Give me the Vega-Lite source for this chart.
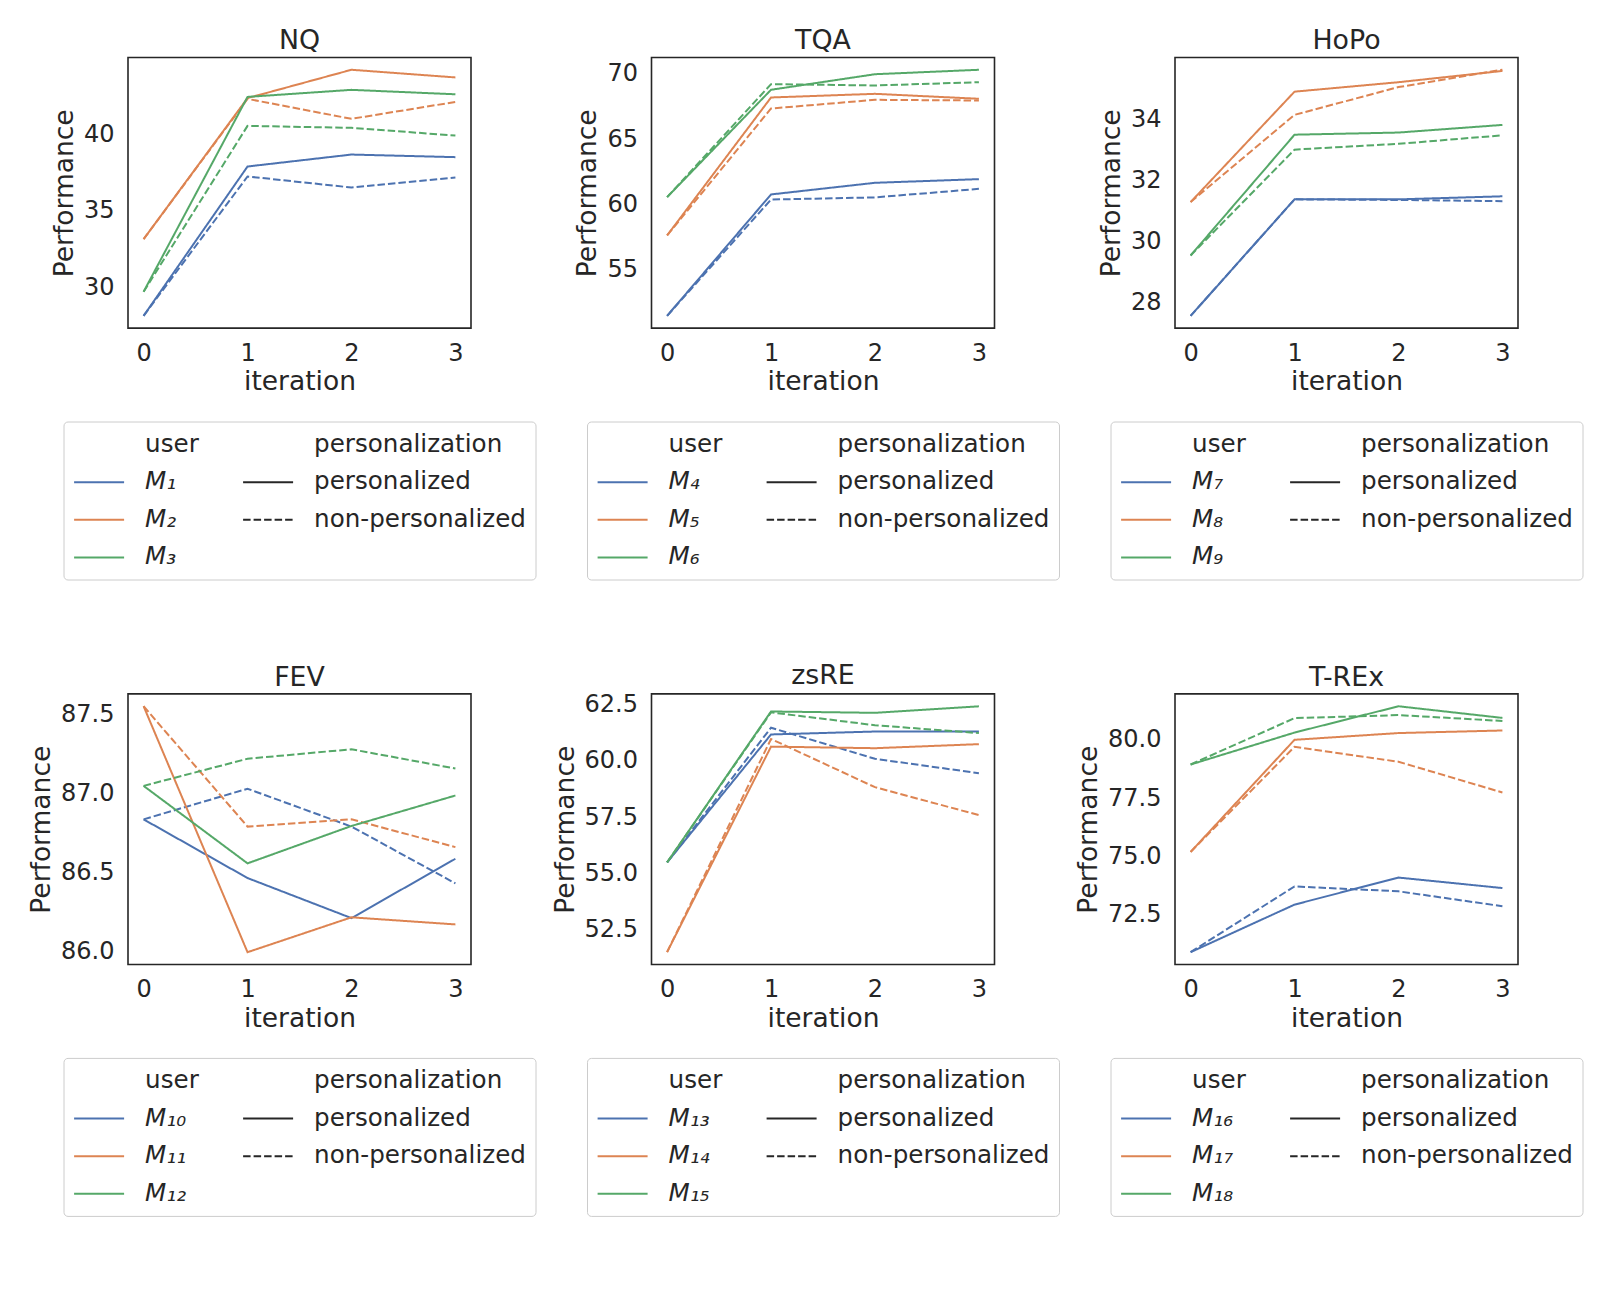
{
  "$schema": "https://vega.github.io/schema/vega-lite/v6.json",
  "padding": {"left": 27, "top": 26.5, "right": 10, "bottom": 10},
  "background": "white",
  "config": {
    "font": "DejaVu Sans",
    "view": {"stroke": "#262626", "strokeWidth": 1.6},
    "axis": {"grid": false, "ticks": false, "tickSize": 0, "domain": false, "labelFontSize": 24, "titleFontSize": 26.5, "labelColor": "#262626", "titleColor": "#262626", "titleFontWeight": "normal"},
    "axisX": {"labelPadding": 13, "titlePadding": 3.5},
    "axisY": {"labelPadding": 14, "titlePadding": 5},
    "title": {"fontSize": 26.8, "fontWeight": "normal", "color": "#262626", "offset": 2.5},
    "legend": {"labelFontSize": 24.6, "labelColor": "#262626", "symbolType": "M-1,0H3", "symbolSize": 625, "symbolStrokeWidth": 2, "labelOffset": 45, "rowPadding": 11.6, "columnPadding": 40, "padding": 9.6, "labelLimit": 400, "strokeColor": "#cccccc", "fillColor": "white", "cornerRadius": 4, "columns": 2, "orient": "none", "legendX": -64.5, "legendY": 364}
  },
  "data": {"values": [
    {"dataset":"NQ","user":"M₁","personalization":"personalized","iteration":0,"performance":28.15},
    {"dataset":"NQ","user":"M₁","personalization":"personalized","iteration":1,"performance":37.89},
    {"dataset":"NQ","user":"M₁","personalization":"personalized","iteration":2,"performance":38.67},
    {"dataset":"NQ","user":"M₁","personalization":"personalized","iteration":3,"performance":38.5},
    {"dataset":"NQ","user":"M₁","personalization":"non-personalized","iteration":0,"performance":28.15},
    {"dataset":"NQ","user":"M₁","personalization":"non-personalized","iteration":1,"performance":37.24},
    {"dataset":"NQ","user":"M₁","personalization":"non-personalized","iteration":2,"performance":36.52},
    {"dataset":"NQ","user":"M₁","personalization":"non-personalized","iteration":3,"performance":37.17},
    {"dataset":"NQ","user":"M₂","personalization":"personalized","iteration":0,"performance":33.15},
    {"dataset":"NQ","user":"M₂","personalization":"personalized","iteration":1,"performance":42.35},
    {"dataset":"NQ","user":"M₂","personalization":"personalized","iteration":2,"performance":44.2},
    {"dataset":"NQ","user":"M₂","personalization":"personalized","iteration":3,"performance":43.7},
    {"dataset":"NQ","user":"M₂","personalization":"non-personalized","iteration":0,"performance":33.15},
    {"dataset":"NQ","user":"M₂","personalization":"non-personalized","iteration":1,"performance":42.3},
    {"dataset":"NQ","user":"M₂","personalization":"non-personalized","iteration":2,"performance":41.0},
    {"dataset":"NQ","user":"M₂","personalization":"non-personalized","iteration":3,"performance":42.1},
    {"dataset":"NQ","user":"M₃","personalization":"personalized","iteration":0,"performance":29.72},
    {"dataset":"NQ","user":"M₃","personalization":"personalized","iteration":1,"performance":42.43},
    {"dataset":"NQ","user":"M₃","personalization":"personalized","iteration":2,"performance":42.89},
    {"dataset":"NQ","user":"M₃","personalization":"personalized","iteration":3,"performance":42.6},
    {"dataset":"NQ","user":"M₃","personalization":"non-personalized","iteration":0,"performance":29.72},
    {"dataset":"NQ","user":"M₃","personalization":"non-personalized","iteration":1,"performance":40.54},
    {"dataset":"NQ","user":"M₃","personalization":"non-personalized","iteration":2,"performance":40.41},
    {"dataset":"NQ","user":"M₃","personalization":"non-personalized","iteration":3,"performance":39.91},

    {"dataset":"TQA","user":"M₄","personalization":"personalized","iteration":0,"performance":51.48},
    {"dataset":"TQA","user":"M₄","personalization":"personalized","iteration":1,"performance":60.77},
    {"dataset":"TQA","user":"M₄","personalization":"personalized","iteration":2,"performance":61.66},
    {"dataset":"TQA","user":"M₄","personalization":"personalized","iteration":3,"performance":61.94},
    {"dataset":"TQA","user":"M₄","personalization":"non-personalized","iteration":0,"performance":51.48},
    {"dataset":"TQA","user":"M₄","personalization":"non-personalized","iteration":1,"performance":60.38},
    {"dataset":"TQA","user":"M₄","personalization":"non-personalized","iteration":2,"performance":60.54},
    {"dataset":"TQA","user":"M₄","personalization":"non-personalized","iteration":3,"performance":61.2},
    {"dataset":"TQA","user":"M₅","personalization":"personalized","iteration":0,"performance":57.63},
    {"dataset":"TQA","user":"M₅","personalization":"personalized","iteration":1,"performance":68.19},
    {"dataset":"TQA","user":"M₅","personalization":"personalized","iteration":2,"performance":68.47},
    {"dataset":"TQA","user":"M₅","personalization":"personalized","iteration":3,"performance":68.09},
    {"dataset":"TQA","user":"M₅","personalization":"non-personalized","iteration":0,"performance":57.63},
    {"dataset":"TQA","user":"M₅","personalization":"non-personalized","iteration":1,"performance":67.35},
    {"dataset":"TQA","user":"M₅","personalization":"non-personalized","iteration":2,"performance":68.01},
    {"dataset":"TQA","user":"M₅","personalization":"non-personalized","iteration":3,"performance":67.96},
    {"dataset":"TQA","user":"M₆","personalization":"personalized","iteration":0,"performance":60.56},
    {"dataset":"TQA","user":"M₆","personalization":"personalized","iteration":1,"performance":68.78},
    {"dataset":"TQA","user":"M₆","personalization":"personalized","iteration":2,"performance":69.97},
    {"dataset":"TQA","user":"M₆","personalization":"personalized","iteration":3,"performance":70.31},
    {"dataset":"TQA","user":"M₆","personalization":"non-personalized","iteration":0,"performance":60.56},
    {"dataset":"TQA","user":"M₆","personalization":"non-personalized","iteration":1,"performance":69.21},
    {"dataset":"TQA","user":"M₆","personalization":"non-personalized","iteration":2,"performance":69.11},
    {"dataset":"TQA","user":"M₆","personalization":"non-personalized","iteration":3,"performance":69.36},

    {"dataset":"HoPo","user":"M₇","personalization":"personalized","iteration":0,"performance":27.56},
    {"dataset":"HoPo","user":"M₇","personalization":"personalized","iteration":1,"performance":31.38},
    {"dataset":"HoPo","user":"M₇","personalization":"personalized","iteration":2,"performance":31.38},
    {"dataset":"HoPo","user":"M₇","personalization":"personalized","iteration":3,"performance":31.48},
    {"dataset":"HoPo","user":"M₇","personalization":"non-personalized","iteration":0,"performance":27.56},
    {"dataset":"HoPo","user":"M₇","personalization":"non-personalized","iteration":1,"performance":31.38},
    {"dataset":"HoPo","user":"M₇","personalization":"non-personalized","iteration":2,"performance":31.36},
    {"dataset":"HoPo","user":"M₇","personalization":"non-personalized","iteration":3,"performance":31.32},
    {"dataset":"HoPo","user":"M₈","personalization":"personalized","iteration":0,"performance":31.29},
    {"dataset":"HoPo","user":"M₈","personalization":"personalized","iteration":1,"performance":34.91},
    {"dataset":"HoPo","user":"M₈","personalization":"personalized","iteration":2,"performance":35.22},
    {"dataset":"HoPo","user":"M₈","personalization":"personalized","iteration":3,"performance":35.59},
    {"dataset":"HoPo","user":"M₈","personalization":"non-personalized","iteration":0,"performance":31.29},
    {"dataset":"HoPo","user":"M₈","personalization":"non-personalized","iteration":1,"performance":34.15},
    {"dataset":"HoPo","user":"M₈","personalization":"non-personalized","iteration":2,"performance":35.06},
    {"dataset":"HoPo","user":"M₈","personalization":"non-personalized","iteration":3,"performance":35.63},
    {"dataset":"HoPo","user":"M₉","personalization":"personalized","iteration":0,"performance":29.54},
    {"dataset":"HoPo","user":"M₉","personalization":"personalized","iteration":1,"performance":33.5},
    {"dataset":"HoPo","user":"M₉","personalization":"personalized","iteration":2,"performance":33.57},
    {"dataset":"HoPo","user":"M₉","personalization":"personalized","iteration":3,"performance":33.82},
    {"dataset":"HoPo","user":"M₉","personalization":"non-personalized","iteration":0,"performance":29.54},
    {"dataset":"HoPo","user":"M₉","personalization":"non-personalized","iteration":1,"performance":33.01},
    {"dataset":"HoPo","user":"M₉","personalization":"non-personalized","iteration":2,"performance":33.2},
    {"dataset":"HoPo","user":"M₉","personalization":"non-personalized","iteration":3,"performance":33.48},

    {"dataset":"FEV","user":"M₁₀","personalization":"personalized","iteration":0,"performance":86.836},
    {"dataset":"FEV","user":"M₁₀","personalization":"personalized","iteration":1,"performance":86.464},
    {"dataset":"FEV","user":"M₁₀","personalization":"personalized","iteration":2,"performance":86.21},
    {"dataset":"FEV","user":"M₁₀","personalization":"personalized","iteration":3,"performance":86.586},
    {"dataset":"FEV","user":"M₁₀","personalization":"non-personalized","iteration":0,"performance":86.836},
    {"dataset":"FEV","user":"M₁₀","personalization":"non-personalized","iteration":1,"performance":87.03},
    {"dataset":"FEV","user":"M₁₀","personalization":"non-personalized","iteration":2,"performance":86.79},
    {"dataset":"FEV","user":"M₁₀","personalization":"non-personalized","iteration":3,"performance":86.43},
    {"dataset":"FEV","user":"M₁₁","personalization":"personalized","iteration":0,"performance":87.553},
    {"dataset":"FEV","user":"M₁₁","personalization":"personalized","iteration":1,"performance":85.994},
    {"dataset":"FEV","user":"M₁₁","personalization":"personalized","iteration":2,"performance":86.215},
    {"dataset":"FEV","user":"M₁₁","personalization":"personalized","iteration":3,"performance":86.17},
    {"dataset":"FEV","user":"M₁₁","personalization":"non-personalized","iteration":0,"performance":87.553},
    {"dataset":"FEV","user":"M₁₁","personalization":"non-personalized","iteration":1,"performance":86.79},
    {"dataset":"FEV","user":"M₁₁","personalization":"non-personalized","iteration":2,"performance":86.836},
    {"dataset":"FEV","user":"M₁₁","personalization":"non-personalized","iteration":3,"performance":86.66},
    {"dataset":"FEV","user":"M₁₂","personalization":"personalized","iteration":0,"performance":87.048},
    {"dataset":"FEV","user":"M₁₂","personalization":"personalized","iteration":1,"performance":86.557},
    {"dataset":"FEV","user":"M₁₂","personalization":"personalized","iteration":2,"performance":86.794},
    {"dataset":"FEV","user":"M₁₂","personalization":"personalized","iteration":3,"performance":86.987},
    {"dataset":"FEV","user":"M₁₂","personalization":"non-personalized","iteration":0,"performance":87.048},
    {"dataset":"FEV","user":"M₁₂","personalization":"non-personalized","iteration":1,"performance":87.22},
    {"dataset":"FEV","user":"M₁₂","personalization":"non-personalized","iteration":2,"performance":87.28},
    {"dataset":"FEV","user":"M₁₂","personalization":"non-personalized","iteration":3,"performance":87.158},

    {"dataset":"zsRE","user":"M₁₃","personalization":"personalized","iteration":0,"performance":55.49},
    {"dataset":"zsRE","user":"M₁₃","personalization":"personalized","iteration":1,"performance":61.17},
    {"dataset":"zsRE","user":"M₁₃","personalization":"personalized","iteration":2,"performance":61.3},
    {"dataset":"zsRE","user":"M₁₃","personalization":"personalized","iteration":3,"performance":61.3},
    {"dataset":"zsRE","user":"M₁₃","personalization":"non-personalized","iteration":0,"performance":55.49},
    {"dataset":"zsRE","user":"M₁₃","personalization":"non-personalized","iteration":1,"performance":61.47},
    {"dataset":"zsRE","user":"M₁₃","personalization":"non-personalized","iteration":2,"performance":60.09},
    {"dataset":"zsRE","user":"M₁₃","personalization":"non-personalized","iteration":3,"performance":59.45},
    {"dataset":"zsRE","user":"M₁₄","personalization":"personalized","iteration":0,"performance":51.51},
    {"dataset":"zsRE","user":"M₁₄","personalization":"personalized","iteration":1,"performance":60.63},
    {"dataset":"zsRE","user":"M₁₄","personalization":"personalized","iteration":2,"performance":60.56},
    {"dataset":"zsRE","user":"M₁₄","personalization":"personalized","iteration":3,"performance":60.74},
    {"dataset":"zsRE","user":"M₁₄","personalization":"non-personalized","iteration":0,"performance":51.51},
    {"dataset":"zsRE","user":"M₁₄","personalization":"non-personalized","iteration":1,"performance":60.97},
    {"dataset":"zsRE","user":"M₁₄","personalization":"non-personalized","iteration":2,"performance":58.83},
    {"dataset":"zsRE","user":"M₁₄","personalization":"non-personalized","iteration":3,"performance":57.59},
    {"dataset":"zsRE","user":"M₁₅","personalization":"personalized","iteration":0,"performance":55.49},
    {"dataset":"zsRE","user":"M₁₅","personalization":"personalized","iteration":1,"performance":62.19},
    {"dataset":"zsRE","user":"M₁₅","personalization":"personalized","iteration":2,"performance":62.13},
    {"dataset":"zsRE","user":"M₁₅","personalization":"personalized","iteration":3,"performance":62.42},
    {"dataset":"zsRE","user":"M₁₅","personalization":"non-personalized","iteration":0,"performance":55.49},
    {"dataset":"zsRE","user":"M₁₅","personalization":"non-personalized","iteration":1,"performance":62.15},
    {"dataset":"zsRE","user":"M₁₅","personalization":"non-personalized","iteration":2,"performance":61.58},
    {"dataset":"zsRE","user":"M₁₅","personalization":"non-personalized","iteration":3,"performance":61.23},

    {"dataset":"T-REx","user":"M₁₆","personalization":"personalized","iteration":0,"performance":70.89},
    {"dataset":"T-REx","user":"M₁₆","personalization":"personalized","iteration":1,"performance":72.93},
    {"dataset":"T-REx","user":"M₁₆","personalization":"personalized","iteration":2,"performance":74.09},
    {"dataset":"T-REx","user":"M₁₆","personalization":"personalized","iteration":3,"performance":73.64},
    {"dataset":"T-REx","user":"M₁₆","personalization":"non-personalized","iteration":0,"performance":70.89},
    {"dataset":"T-REx","user":"M₁₆","personalization":"non-personalized","iteration":1,"performance":73.71},
    {"dataset":"T-REx","user":"M₁₆","personalization":"non-personalized","iteration":2,"performance":73.5},
    {"dataset":"T-REx","user":"M₁₆","personalization":"non-personalized","iteration":3,"performance":72.86},
    {"dataset":"T-REx","user":"M₁₇","personalization":"personalized","iteration":0,"performance":75.19},
    {"dataset":"T-REx","user":"M₁₇","personalization":"personalized","iteration":1,"performance":80.0},
    {"dataset":"T-REx","user":"M₁₇","personalization":"personalized","iteration":2,"performance":80.29},
    {"dataset":"T-REx","user":"M₁₇","personalization":"personalized","iteration":3,"performance":80.4},
    {"dataset":"T-REx","user":"M₁₇","personalization":"non-personalized","iteration":0,"performance":75.19},
    {"dataset":"T-REx","user":"M₁₇","personalization":"non-personalized","iteration":1,"performance":79.7},
    {"dataset":"T-REx","user":"M₁₇","personalization":"non-personalized","iteration":2,"performance":79.06},
    {"dataset":"T-REx","user":"M₁₇","personalization":"non-personalized","iteration":3,"performance":77.74},
    {"dataset":"T-REx","user":"M₁₈","personalization":"personalized","iteration":0,"performance":78.94},
    {"dataset":"T-REx","user":"M₁₈","personalization":"personalized","iteration":1,"performance":80.31},
    {"dataset":"T-REx","user":"M₁₈","personalization":"personalized","iteration":2,"performance":81.44},
    {"dataset":"T-REx","user":"M₁₈","personalization":"personalized","iteration":3,"performance":80.94},
    {"dataset":"T-REx","user":"M₁₈","personalization":"non-personalized","iteration":0,"performance":78.94},
    {"dataset":"T-REx","user":"M₁₈","personalization":"non-personalized","iteration":1,"performance":80.93},
    {"dataset":"T-REx","user":"M₁₈","personalization":"non-personalized","iteration":2,"performance":81.06},
    {"dataset":"T-REx","user":"M₁₈","personalization":"non-personalized","iteration":3,"performance":80.81}
  ]},
  "columns": 3,
  "spacing": {"row": 365.4, "column": 180.5},
  "bounds": "flush",
  "resolve": {"scale": {"color": "independent", "strokeDash": "independent"}, "legend": {"color": "independent", "strokeDash": "independent"}},
  "concat": [
    {
      "width": 343, "height": 270.6, "title": "NQ",
      "transform": [{"filter": "datum.dataset === 'NQ'"}],
      "mark": {"type": "line", "strokeWidth": 2},
      "encoding": {
        "x": {"field": "iteration", "type": "quantitative", "scale": {"domain": [-0.15, 3.15], "nice": false, "zero": false}, "axis": {"values": [0, 1, 2, 3], "format": "d", "title": "iteration"}},
        "y": {"field": "performance", "type": "quantitative", "scale": {"domain": [27.35, 45.0], "nice": false, "zero": false}, "axis": {"values": [30, 35, 40], "format": "d", "title": "Performance"}},
        "color": {"field": "user", "type": "nominal", "scale": {"domain": ["user", "M₁", "M₂", "M₃", "personalization", "personalized", "non-personalized"], "range": ["transparent", "#4c72b0", "#dd8452", "#55a868", "transparent", "#262626", "#262626"]}, "legend": {"title": null, "encode": {"symbols": {"update": {"strokeDash": {"signal": "datum.value === 'non-personalized' ? [7.5, 3] : [1, 0]"}, "opacity": {"value": 1}}}, "labels": {"update": {"fontStyle": {"signal": "test(/^M/, datum.value) ? 'italic' : 'normal'"}}}}}},
        "strokeDash": {"field": "personalization", "type": "nominal", "scale": {"domain": ["personalized", "non-personalized"], "range": [[1, 0], [7.5, 3]]}, "legend": null}
      }
    },
    {
      "width": 343, "height": 270.6, "title": "TQA",
      "transform": [{"filter": "datum.dataset === 'TQA'"}],
      "mark": {"type": "line", "strokeWidth": 2},
      "encoding": {
        "x": {"field": "iteration", "type": "quantitative", "scale": {"domain": [-0.15, 3.15], "nice": false, "zero": false}, "axis": {"values": [0, 1, 2, 3], "format": "d", "title": "iteration"}},
        "y": {"field": "performance", "type": "quantitative", "scale": {"domain": [50.54, 71.25], "nice": false, "zero": false}, "axis": {"values": [55, 60, 65, 70], "format": "d", "title": "Performance"}},
        "color": {"field": "user", "type": "nominal", "scale": {"domain": ["user", "M₄", "M₅", "M₆", "personalization", "personalized", "non-personalized"], "range": ["transparent", "#4c72b0", "#dd8452", "#55a868", "transparent", "#262626", "#262626"]}, "legend": {"title": null, "encode": {"symbols": {"update": {"strokeDash": {"signal": "datum.value === 'non-personalized' ? [7.5, 3] : [1, 0]"}, "opacity": {"value": 1}}}, "labels": {"update": {"fontStyle": {"signal": "test(/^M/, datum.value) ? 'italic' : 'normal'"}}}}}},
        "strokeDash": {"field": "personalization", "type": "nominal", "scale": {"domain": ["personalized", "non-personalized"], "range": [[1, 0], [7.5, 3]]}, "legend": null}
      }
    },
    {
      "width": 343, "height": 270.6, "title": "HoPo",
      "transform": [{"filter": "datum.dataset === 'HoPo'"}],
      "mark": {"type": "line", "strokeWidth": 2},
      "encoding": {
        "x": {"field": "iteration", "type": "quantitative", "scale": {"domain": [-0.15, 3.15], "nice": false, "zero": false}, "axis": {"values": [0, 1, 2, 3], "format": "d", "title": "iteration"}},
        "y": {"field": "performance", "type": "quantitative", "scale": {"domain": [27.16, 36.03], "nice": false, "zero": false}, "axis": {"values": [28, 30, 32, 34], "format": "d", "title": "Performance"}},
        "color": {"field": "user", "type": "nominal", "scale": {"domain": ["user", "M₇", "M₈", "M₉", "personalization", "personalized", "non-personalized"], "range": ["transparent", "#4c72b0", "#dd8452", "#55a868", "transparent", "#262626", "#262626"]}, "legend": {"title": null, "encode": {"symbols": {"update": {"strokeDash": {"signal": "datum.value === 'non-personalized' ? [7.5, 3] : [1, 0]"}, "opacity": {"value": 1}}}, "labels": {"update": {"fontStyle": {"signal": "test(/^M/, datum.value) ? 'italic' : 'normal'"}}}}}},
        "strokeDash": {"field": "personalization", "type": "nominal", "scale": {"domain": ["personalized", "non-personalized"], "range": [[1, 0], [7.5, 3]]}, "legend": null}
      }
    },
    {
      "width": 343, "height": 270.6, "title": "FEV",
      "transform": [{"filter": "datum.dataset === 'FEV'"}],
      "mark": {"type": "line", "strokeWidth": 2},
      "encoding": {
        "x": {"field": "iteration", "type": "quantitative", "scale": {"domain": [-0.15, 3.15], "nice": false, "zero": false}, "axis": {"values": [0, 1, 2, 3], "format": "d", "title": "iteration"}},
        "y": {"field": "performance", "type": "quantitative", "scale": {"domain": [85.916, 87.631], "nice": false, "zero": false}, "axis": {"values": [86.0, 86.5, 87.0, 87.5], "format": ".1f", "title": "Performance"}},
        "color": {"field": "user", "type": "nominal", "scale": {"domain": ["user", "M₁₀", "M₁₁", "M₁₂", "personalization", "personalized", "non-personalized"], "range": ["transparent", "#4c72b0", "#dd8452", "#55a868", "transparent", "#262626", "#262626"]}, "legend": {"title": null, "encode": {"symbols": {"update": {"strokeDash": {"signal": "datum.value === 'non-personalized' ? [7.5, 3] : [1, 0]"}, "opacity": {"value": 1}}}, "labels": {"update": {"fontStyle": {"signal": "test(/^M/, datum.value) ? 'italic' : 'normal'"}}}}}},
        "strokeDash": {"field": "personalization", "type": "nominal", "scale": {"domain": ["personalized", "non-personalized"], "range": [[1, 0], [7.5, 3]]}, "legend": null}
      }
    },
    {
      "width": 343, "height": 270.6, "title": "zsRE",
      "transform": [{"filter": "datum.dataset === 'zsRE'"}],
      "mark": {"type": "line", "strokeWidth": 2},
      "encoding": {
        "x": {"field": "iteration", "type": "quantitative", "scale": {"domain": [-0.15, 3.15], "nice": false, "zero": false}, "axis": {"values": [0, 1, 2, 3], "format": "d", "title": "iteration"}},
        "y": {"field": "performance", "type": "quantitative", "scale": {"domain": [50.96, 62.97], "nice": false, "zero": false}, "axis": {"values": [52.5, 55.0, 57.5, 60.0, 62.5], "format": ".1f", "title": "Performance"}},
        "color": {"field": "user", "type": "nominal", "scale": {"domain": ["user", "M₁₃", "M₁₄", "M₁₅", "personalization", "personalized", "non-personalized"], "range": ["transparent", "#4c72b0", "#dd8452", "#55a868", "transparent", "#262626", "#262626"]}, "legend": {"title": null, "encode": {"symbols": {"update": {"strokeDash": {"signal": "datum.value === 'non-personalized' ? [7.5, 3] : [1, 0]"}, "opacity": {"value": 1}}}, "labels": {"update": {"fontStyle": {"signal": "test(/^M/, datum.value) ? 'italic' : 'normal'"}}}}}},
        "strokeDash": {"field": "personalization", "type": "nominal", "scale": {"domain": ["personalized", "non-personalized"], "range": [[1, 0], [7.5, 3]]}, "legend": null}
      }
    },
    {
      "width": 343, "height": 270.6, "title": "T-REx",
      "transform": [{"filter": "datum.dataset === 'T-REx'"}],
      "mark": {"type": "line", "strokeWidth": 2},
      "encoding": {
        "x": {"field": "iteration", "type": "quantitative", "scale": {"domain": [-0.15, 3.15], "nice": false, "zero": false}, "axis": {"values": [0, 1, 2, 3], "format": "d", "title": "iteration"}},
        "y": {"field": "performance", "type": "quantitative", "scale": {"domain": [70.36, 81.97], "nice": false, "zero": false}, "axis": {"values": [72.5, 75.0, 77.5, 80.0], "format": ".1f", "title": "Performance"}},
        "color": {"field": "user", "type": "nominal", "scale": {"domain": ["user", "M₁₆", "M₁₇", "M₁₈", "personalization", "personalized", "non-personalized"], "range": ["transparent", "#4c72b0", "#dd8452", "#55a868", "transparent", "#262626", "#262626"]}, "legend": {"title": null, "encode": {"symbols": {"update": {"strokeDash": {"signal": "datum.value === 'non-personalized' ? [7.5, 3] : [1, 0]"}, "opacity": {"value": 1}}}, "labels": {"update": {"fontStyle": {"signal": "test(/^M/, datum.value) ? 'italic' : 'normal'"}}}}}},
        "strokeDash": {"field": "personalization", "type": "nominal", "scale": {"domain": ["personalized", "non-personalized"], "range": [[1, 0], [7.5, 3]]}, "legend": null}
      }
    }
  ]
}
